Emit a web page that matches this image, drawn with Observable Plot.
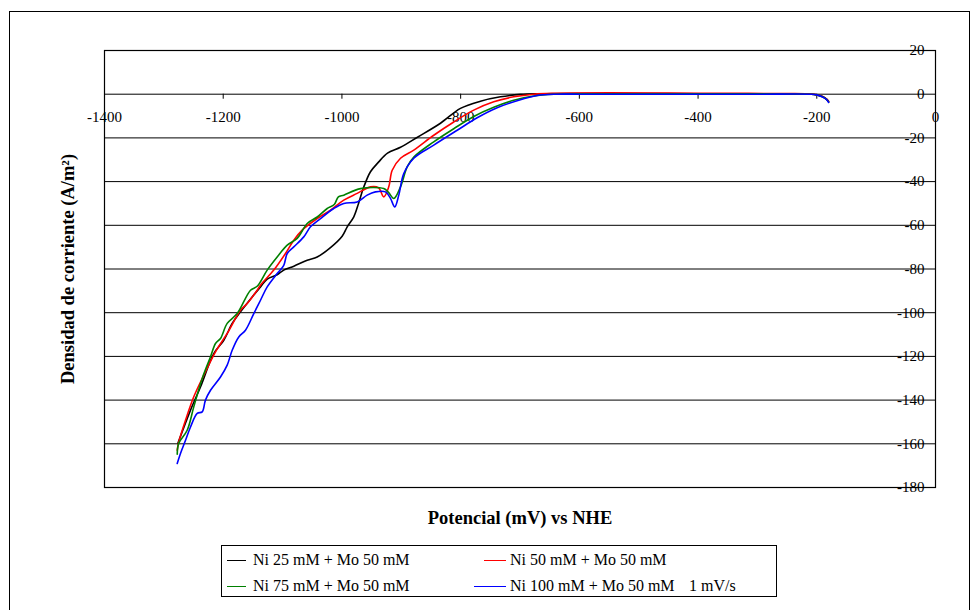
<!DOCTYPE html>
<html><head><meta charset="utf-8">
<script src="https://cdn.jsdelivr.net/npm/d3@7"></script>
<script src="https://cdn.jsdelivr.net/npm/@observablehq/plot@0.6"></script>
<style>
body{margin:0;background:#fff;font-family:"Liberation Serif","Times New Roman",Tinos,"DejaVu Serif","Noto Serif",serif;}
#wrap{position:relative;width:975px;height:610px;overflow:hidden;background:#fff;}
#chart{position:absolute;left:0;top:0;}
#outer{position:absolute;left:9px;top:11px;width:961px;height:700px;border:1.5px solid #000;box-sizing:border-box;pointer-events:none;}
#legend{position:absolute;left:221px;top:545px;width:556px;height:52px;border:1px solid #000;box-sizing:border-box;font-size:16px;background:#fff;}
.item{position:absolute;white-space:nowrap;line-height:16px;color:#000;}
.sw{position:absolute;height:0;border-top:1.5px solid;}
svg text{font-family:"Liberation Serif","Times New Roman",Tinos,"DejaVu Serif","Noto Serif",serif;}
</style></head><body>
<div id="wrap"><div id="chart"></div><div id="outer"></div><div id="legend"></div></div>
<script>
// Potential (mV vs NHE), current density (A/m^2)
const ni25 = [[-1276.5,-159.9],[-1255.1,-144.6],[-1238.3,-134.0],[-1215.9,-118.7],[-1199.0,-112.6],[-1184.9,-104.9],[-1170.9,-99.6],[-1151.2,-92.8],[-1137.2,-88.2],[-1125.9,-84.6],[-1109.1,-82.6],[-1098,-80.5],[-1081,-78.7],[-1058.5,-76.0],[-1041.7,-74.5],[-1019.3,-70.2],[-999.6,-65.0],[-991.1,-60.7],[-980,-56.1],[-972,-50.0],[-963.2,-42.5],[-951.9,-35.5],[-938.4,-31.1],[-923.2,-27.0],[-901.3,-24.3],[-872.7,-19.7],[-834,-13.3],[-800.3,-6.5],[-766.6,-3.2],[-732.9,-1.2],[-699.2,-0.1],[-665,0.2],[-600,0.3],[-500,0.3],[-400,0.2],[-300,0.2],[-250,0.1],[-210,0],[-200,-0.3],[-190,-1.2],[-183,-2.5],[-180,-3.5]];
const ni50 = [[-1277.5,-162.9],[-1274.8,-159.1],[-1263.5,-149.2],[-1249.6,-138.5],[-1232.7,-128.6],[-1213,-117.9],[-1193.3,-109.5],[-1170.9,-98.9],[-1159.6,-95.8],[-1142.8,-89.7],[-1137.2,-87.4],[-1114.8,-80.5],[-1095.1,-72.9],[-1081.1,-66.8],[-1067,-62.2],[-1041.7,-56.9],[-1019.3,-53.1],[-996.9,-48.5],[-974.3,-45.4],[-951.9,-42.4],[-938.4,-42.8],[-929.5,-47.0],[-921.1,-42.4],[-915.3,-34.8],[-901.3,-29.3],[-878.9,-25.6],[-845.3,-18.8],[-811.6,-12.7],[-777.9,-7.3],[-744.2,-3.5],[-710.5,-1.2],[-676.8,0],[-640,0.4],[-550,0.6],[-450,0.5],[-350,0.4],[-250,0.3],[-210,0.1],[-200,-0.3],[-190,-1.0],[-183,-2.3],[-180,-3.2]];
const ni75 = [[-1277.5,-164.8],[-1274.8,-159.7],[-1260.7,-153.8],[-1249.6,-143.1],[-1235.4,-130.1],[-1221.4,-120.2],[-1213,-114.1],[-1204.6,-111.8],[-1193.3,-104.9],[-1176.5,-100.4],[-1154,-89.7],[-1142.8,-87.9],[-1125.9,-80.5],[-1109.1,-74.5],[-1092.2,-69.1],[-1075.4,-66.0],[-1058.5,-59.2],[-1041.7,-56.2],[-1024.8,-52.3],[-1013,-50.5],[-1006,-47.0],[-996.9,-46.2],[-968.7,-43.2],[-929.5,-43.2],[-921.6,-44.9],[-912.6,-47.7],[-901.3,-42.4],[-890.1,-33.3],[-878.9,-28.8],[-845.3,-21.8],[-811.6,-15.8],[-777.9,-10.2],[-744.2,-6.0],[-710.5,-2.8],[-676.8,-0.8],[-643.1,0],[-600,0.2],[-400,0.2],[-250,0.1],[-210,0],[-200,-0.3],[-190,-1.2],[-183,-2.5],[-180,-3.5]];
const ni100 = [[-1277.5,-169.0],[-1272,-164.4],[-1263.5,-158.4],[-1255.1,-152.3],[-1243.8,-146.1],[-1235.4,-145.4],[-1229.9,-140.0],[-1221.4,-135.5],[-1204.6,-129.4],[-1193.3,-124.0],[-1184.9,-117.2],[-1173.8,-111.1],[-1162.5,-108.0],[-1148.5,-100.4],[-1137.2,-94.3],[-1125.9,-88.2],[-1109.1,-82.1],[-1098,-78.3],[-1092.2,-72.9],[-1081.1,-69.9],[-1064.3,-65.3],[-1053,-60.7],[-1036.1,-56.9],[-1013.7,-52.3],[-996.9,-50.0],[-974.3,-49.3],[-957.5,-46.2],[-943.5,-44.7],[-926.6,-44.7],[-918.2,-47.7],[-911,-51.6],[-904.2,-46.2],[-895.8,-36.3],[-878.9,-29.3],[-845.3,-23.3],[-805.8,-16.5],[-772.2,-10.8],[-738.5,-6.2],[-704.8,-3.0],[-671.1,-0.6],[-637.4,0],[-600,0],[-400,0],[-300,0],[-210,0],[-200,-0.3],[-190,-1.3],[-183,-2.6],[-180,-3.8]];

const seriesNames = ["Ni 25 mM + Mo 50 mM","Ni 50 mM + Mo 50 mM","Ni 75 mM + Mo 50 mM","Ni 100 mM + Mo 50 mM"];
const seriesColors = ["#000000","#ff0000","#008000","#0000ff"];
const seriesData = [ni25, ni50, ni75, ni100];
const note = "1 mV/s";
const xTicks = [-1400,-1200,-1000,-800,-600,-400,-200,0];
const yTicks = [20,0,-20,-40,-60,-80,-100,-120,-140,-160,-180];
const xTitle = "Potencial (mV) vs NHE";
const yTitle = "Densidad de corriente (A/m²)";

const serif = "'Liberation Serif','Times New Roman',Tinos,'DejaVu Serif','Noto Serif',serif";

const lineMarks = seriesData.map((d, i) => Plot.line(d, {
  x: p => p[0], y: p => p[1], stroke: seriesColors[i], strokeWidth: 1.6, curve: "catmull-rom"
}));

const chart = Plot.plot({
  width: 975, height: 610,
  marginLeft: 104, marginRight: 40, marginTop: 50, marginBottom: 123,
  style: {fontFamily: serif, fontSize: "15px", background: "transparent"},
  x: {domain: [-1400, 0], axis: null},
  y: {domain: [-180, 20], axis: null},
  marks: [
    Plot.ruleY(yTicks, {y: d => d, stroke: "#000", strokeWidth: 1}),
    Plot.frame({stroke: "#000", strokeWidth: 1.2}),
    Plot.ruleX(xTicks, {x: d => d, y1: 0, y2: -2.3, stroke: "#000"}),
    Plot.text(xTicks, {x: d => d, y: 0, dy: 23, text: d => String(d), fontSize: 15}),
    Plot.text(yTicks, {x: 0, y: d => d, dx: -11, textAnchor: "end", text: d => String(d), fontSize: 15}),
    ...lineMarks,
    Plot.text([xTitle], {frameAnchor: "bottom", dy: 36, text: d => d, fontWeight: "bold", fontSize: 18.5}),
    Plot.text([yTitle], {frameAnchor: "left", textAnchor: "middle", dx: -36, rotate: -90, text: d => d, fontWeight: "bold", fontSize: 18.5})
  ]
});
document.getElementById("chart").appendChild(chart);

// Legend
const legend = document.getElementById("legend");
const legendPos = [
  {sx: 5, sw: 19, tx: 31, ty: 6},
  {sx: 262, sw: 22, tx: 288, ty: 6},
  {sx: 5, sw: 19, tx: 31, ty: 32},
  {sx: 252, sw: 32, tx: 288, ty: 32}
];
seriesNames.forEach((name, i) => {
  const p = legendPos[i];
  const sw = document.createElement("div");
  sw.className = "sw";
  sw.style.left = p.sx + "px"; sw.style.width = p.sw + "px"; sw.style.top = (p.ty + 8) + "px";
  sw.style.borderTopColor = seriesColors[i];
  legend.appendChild(sw);
  const t = document.createElement("div");
  t.className = "item";
  t.style.left = p.tx + "px"; t.style.top = p.ty + "px";
  t.textContent = name;
  legend.appendChild(t);
});
const n = document.createElement("div");
n.className = "item"; n.style.left = "467px"; n.style.top = "32px"; n.textContent = note;
legend.appendChild(n);
</script>
</body></html>
